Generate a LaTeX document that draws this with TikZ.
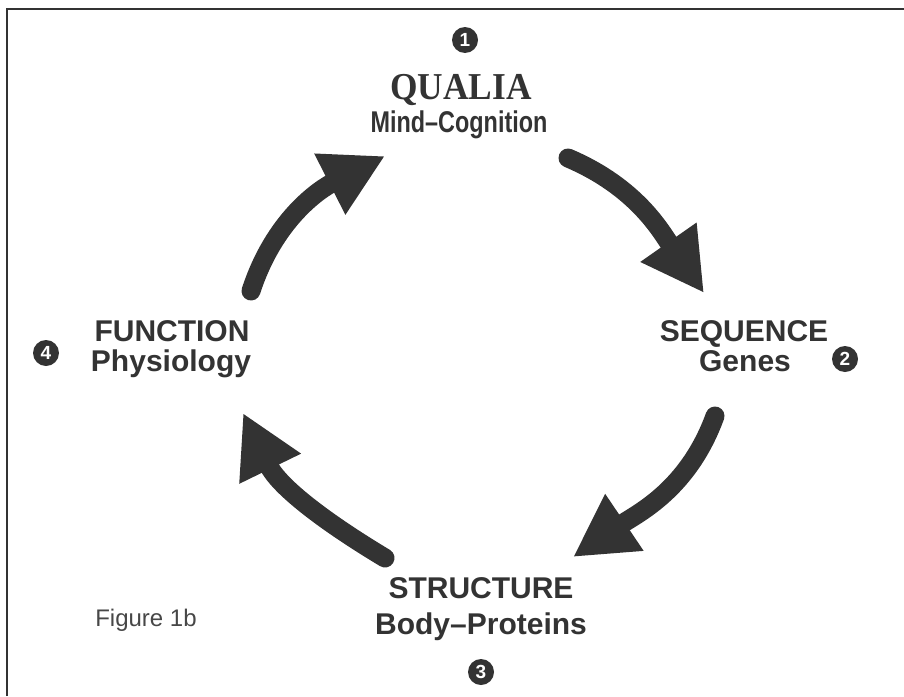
\documentclass[tikz,border=0pt]{standalone}
\usepackage{fontspec}
\setmainfont{Liberation Sans}
\newfontfamily\timesfont[FakeStretch=0.93]{Liberation Serif}
\newfontfamily\narrowfont[FakeStretch=0.78]{Liberation Sans}
\usetikzlibrary{arrows.meta}
\definecolor{ink}{HTML}{333333}

\begin{document}
\begin{tikzpicture}[x=1pt,y=-1pt,
  label/.style={anchor=base, inner sep=0pt, text=ink,
    font=\bfseries\fontsize{30}{30}\selectfont},
  title/.style={anchor=base, inner sep=0pt, text=ink,
    font=\timesfont\bfseries\fontsize{38}{38}\selectfont},
  num/.style={circle, fill=ink, text=white, minimum size=26pt, inner sep=0pt,
    font=\bfseries\fontsize{19}{19}\selectfont},
  flow/.style={draw=ink, line width=19pt, line cap=round,
    -{Triangle[length=62pt 0 1, width=64pt 0 1]}}]

\useasboundingbox (0,0) rectangle (904,696);

% frame (only top and left edges show)
\draw [ink, line width=2pt] (7,696) -- (7,9) -- (904,9);

% top
\node [num] (n1) at (465,40) {1};
\node [title] (qualia) at (461,99) {QUALIA};
\node [label, font=\narrowfont\bfseries\fontsize{30}{30}\selectfont]
  (mind) at (459,132) {Mind–Cognition};

% right
\node [label] (sequence) at (744,341) {SEQUENCE};
\node [label] (genes) at (745,371) {Genes};
\node [num] (n2) at (845,359) {2};

% bottom
\node [label] (structure) at (481,598) {STRUCTURE};
\node [label] (body) at (481,634) {Body–Proteins};
\node [num] (n3) at (481,672) {3};

% left
\node [num] (n4) at (46,353) {4};
\node [label] (function) at (172,341) {FUNCTION};
\node [label] (physiology) at (171,371) {Physiology};

\node [anchor=base, inner sep=0pt, text=ink!90, font=\fontsize{24}{24}\selectfont]
  (fig) at (146,626) {Figure 1b};

% arrow ends
\coordinate (s1) at (568,158);
\coordinate (t1) at (704,293);
\coordinate (s2) at (715,416);
\coordinate (t2) at (573,557);
\coordinate (s3) at (385,558);
\coordinate (t3) at (243,413);
\coordinate (s4) at (251,291);
\coordinate (t4) at (385,156);

\draw [flow] (s1) to [out=-23, in=125] (t1);
\draw [flow] (s2) to [out=-110, in=34] (t2);
\draw [flow] (s3) to [out=149, in=-64] (t3);
\draw [flow] (s4) to [out=72, in=207] (t4);

\end{tikzpicture}
\end{document}
